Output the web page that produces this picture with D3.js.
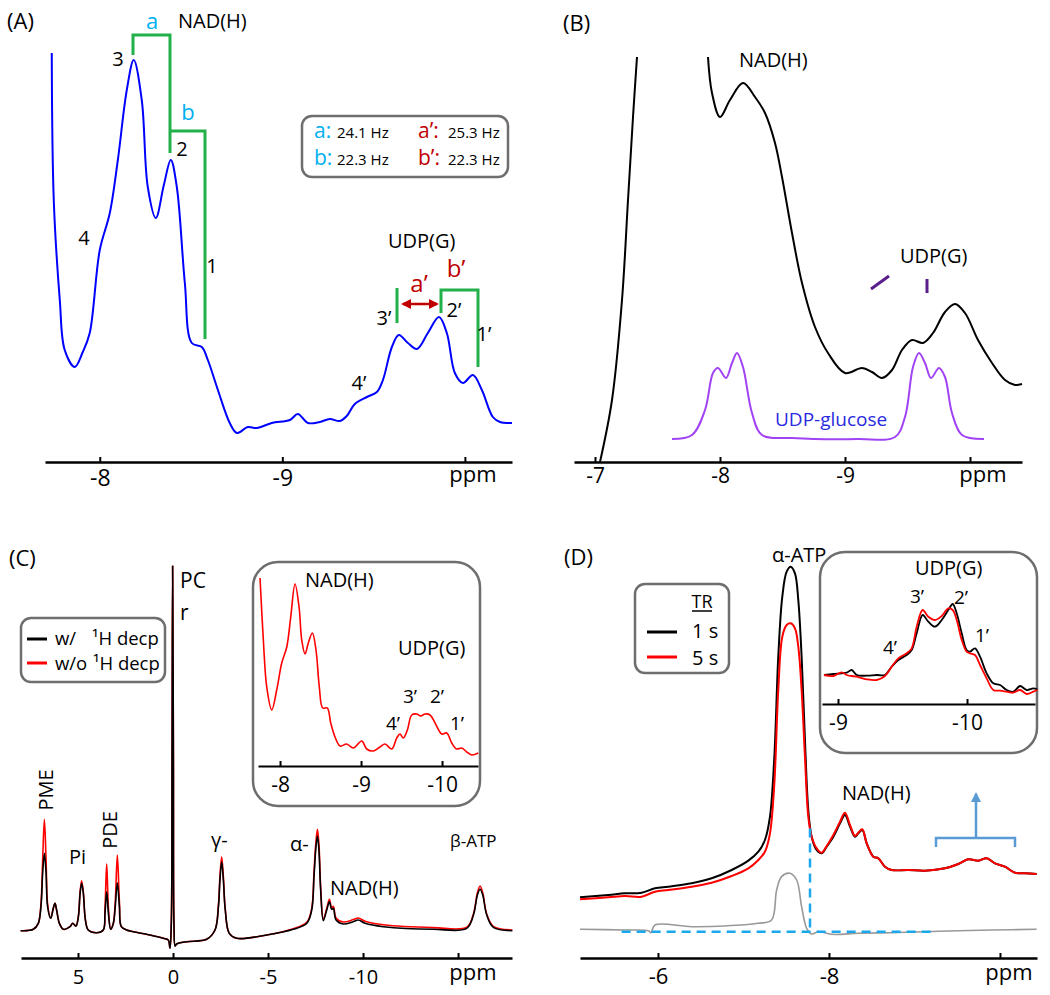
<!DOCTYPE html>
<html>
<head>
<meta charset="utf-8">
<script src="https://cdn.jsdelivr.net/npm/d3@7"></script>
<style>
  body { margin: 0; background: #fff; }
  svg { display: block; font-family: "Open Sans", sans-serif; }
</style>
</head>
<body>
<div id="chart"></div>
<script>
// ---- data (ppm, intensity in arbitrary units) ----

// (A) 1H-decoupled spectrum, NAD(H) / UDP(G) region
const aPpm = [-7.737,-7.748,-7.781,-7.808,-7.863,-7.907,-7.945,-8.0,-8.055,-8.099,-8.148,-8.186,-8.230,-8.263,-8.307,-8.351,-8.389,-8.422,-8.466,-8.504,-8.559,-8.592,-8.647,-8.712,-8.751,-8.811,-8.860,-8.942,-9.041,-9.085,-9.140,-9.205,-9.260,-9.315,-9.353,-9.397,-9.463,-9.518,-9.551,-9.600,-9.638,-9.688,-9.737,-9.797,-9.858,-9.901,-9.945,-9.989,-10.044,-10.093,-10.153,-10.192,-10.258];
const aInt = [96.75,60,35,22.5,18.25,22,26.75,47.5,56.75,70,87.5,95,85,63.25,55.5,63.75,70,63.25,39.25,24.25,23.25,20,12.5,4.25,1.75,3.25,3,4.25,5,6.5,4.25,4.5,5.25,4.75,6,9,10.75,12,15,23.25,26.25,24.25,22.75,26.75,30.75,26.75,16.75,14.25,16.25,12.5,5.75,4.5,4.25];

// (B) in vivo spectrum (null = off-scale alpha-ATP top) and UDP-glucose model
const bPpm = [-7.04,-7.136,-7.216,-7.264,-7.304,-7.336,-7.6,-7.904,-7.936,-8.0,-8.08,-8.184,-8.28,-8.36,-8.44,-8.496,-8.576,-8.656,-8.76,-8.864,-9.0,-9.136,-9.216,-9.296,-9.376,-9.456,-9.536,-9.624,-9.704,-9.8,-9.88,-9.96,-10.064,-10.176,-10.28,-10.36,-10.416];
const bInt = [0,15.5,40.5,65.5,86.25,101.25,null,101.25,92.25,86.25,90.5,94.75,91.25,87.25,79.75,71.25,57.25,44.75,33.75,27.25,22.25,23.5,22.5,21,23,28,30.5,29.75,32.25,37.5,39.5,37.25,30.5,24.75,20.5,19.25,19.5];
const gPpm = [-7.616,-7.776,-7.88,-7.944,-7.984,-8.048,-8.096,-8.136,-8.184,-8.256,-8.336,-8.576,-9.104,-9.4,-9.48,-9.544,-9.592,-9.64,-9.688,-9.752,-9.8,-9.856,-9.936,-10.112];
const gInt = [5.75,6.75,13,22.25,23.5,21,24.75,27.25,23.75,12.25,6.75,6,5.75,6.25,11.25,23.75,27.25,24.75,21,23.5,21.25,12.25,6.75,5.75];

// (C) full spectrum, with / without 1H decoupling
const cPpm = [8.02,7.35,7.09,6.95,6.86,6.77,6.68,6.60,6.44,6.30,6.21,6.12,5.98,5.77,5.42,5.28,5.11,4.98,4.89,4.81,4.72,4.61,4.46,4.02,3.67,3.58,3.49,3.40,3.28,3.14,3.04,2.93,2.82,2.72,2.44,2.09,1.21,0.51,0.25,0.16,0.09,0.05,0.02,-0.02,-0.05,-0.11,-0.19,-0.72,-1.77,-2.21,-2.39,-2.47,-2.56,-2.65,-2.75,-2.96,-3.35,-4.93,-6.33,-7.04,-7.30,-7.42,-7.51,-7.60,-7.68,-7.77,-7.91,-8.09,-8.23,-8.35,-8.44,-8.58,-8.96,-9.49,-9.75,-10.11,-11.07,-13.70,-15.46,-15.81,-16.02,-16.16,-16.30,-16.51,-16.86,-17.86];
const cBlack = [2.83,3.17,4.67,8.83,17.17,22.17,17.17,8.83,5.92,8.42,9.67,7.83,4.67,3.17,3.83,4.67,4.0,6.33,12.17,14.67,12.17,5.5,3.0,2.33,3.0,7.17,12.58,7.17,3.17,4.67,8.83,14.83,8.83,3.83,3.0,2.58,1.75,0.92,0.5,-1.58,4.67,46.33,94.0,46.33,4.67,-1.0,-0.5,0.08,0.67,3.0,8.83,15.5,20.08,15.5,8.0,2.17,0.92,1.75,3.17,4.67,8.0,16.33,23.0,26.5,23.0,13.0,5.33,8.0,10.08,8.17,8.42,5.5,4.5,5.08,5.5,4.67,3.83,3.17,3.42,6.75,11.75,13.17,11.75,6.75,3.67,2.83];
const cRed = [2.83,3.17,4.67,9.5,20.5,30.67,20.5,9.5,5.92,8.42,9.67,7.83,4.67,3.17,3.83,4.67,4.0,6.5,12.5,15.33,12.5,5.5,3.0,2.33,3.0,8.5,19.5,8.5,3.17,4.67,10.0,21.75,10.0,3.83,3.0,2.58,1.75,0.92,0.5,-1.58,4.67,46.33,94.0,46.33,4.67,-1.0,-0.5,0.08,0.67,3.0,9.2,16.3,21.33,16.3,8.2,2.17,0.92,1.75,3.3,4.9,8.4,17.4,24.4,28.17,24.4,13.8,5.7,8.4,10.67,8.6,8.9,6.0,5.0,5.6,6.0,5.2,4.3,3.6,3.7,7.0,12.3,14.0,12.3,7.0,3.9,3.0];

// (C) inset, without decoupling
const cInPpm = [-7.753,-7.794,-7.836,-7.898,-7.959,-8.021,-8.083,-8.132,-8.185,-8.235,-8.268,-8.309,-8.349,-8.399,-8.444,-8.485,-8.527,-8.584,-8.626,-8.679,-8.741,-8.823,-8.905,-9.009,-9.070,-9.152,-9.235,-9.296,-9.379,-9.441,-9.481,-9.522,-9.572,-9.626,-9.688,-9.737,-9.790,-9.852,-9.914,-9.996,-10.058,-10.120,-10.181,-10.243,-10.305,-10.367,-10.448];
const cInInt = [47,31.5,19.75,14,19,25.75,29.75,37.25,45.5,39.75,31.5,28,30.75,33.25,29,19.75,14.5,14.5,10.75,7.25,5,5.5,4.5,6.25,4.25,3.75,4.75,5.5,4.25,7,8,7,9,12.75,13,12.5,13,12.75,10.75,8,8.25,5.75,4.25,4.5,3.5,2.75,3.25];

// (D) TR = 1 s / 5 s and difference
const dPpm = [-5.088,-5.419,-5.614,-5.809,-5.965,-6.121,-6.394,-6.628,-6.862,-7.057,-7.174,-7.251,-7.310,-7.361,-7.407,-7.454,-7.505,-7.552,-7.602,-7.641,-7.680,-7.719,-7.758,-7.797,-7.856,-7.914,-7.973,-8.051,-8.129,-8.187,-8.246,-8.304,-8.343,-8.390,-8.441,-8.519,-8.577,-8.655,-8.733,-8.928,-9.123,-9.357,-9.513,-9.630,-9.747,-9.844,-9.942,-10.058,-10.175,-10.292,-10.429];
const dTr1 = [15.17,15.75,16.17,16.33,17.42,17.83,18.67,19.92,22.0,24.33,26.58,29.5,35.33,50.33,75.33,90.33,96.58,97.83,96.17,89.5,75.33,54.5,37.0,30.33,27.0,26.17,27.83,30.33,33.67,35.75,32.83,30.33,31.17,32.0,28.67,25.33,24.92,22.83,22.0,22.0,21.83,22.42,23.5,24.67,24.33,24.92,23.67,22.83,21.33,21.17,21.0];
const dTr5 = [14.67,15.17,15.5,15.33,16.58,17.0,17.83,18.83,20.5,22.42,24.5,26.58,31.17,43.67,67.0,80.33,83.25,83.67,82.42,77.83,67.0,50.33,35.33,30.33,27.42,26.33,28.0,30.75,34.08,36.33,33.25,30.5,31.33,32.17,28.67,25.33,24.92,22.83,22.0,22.0,21.83,22.42,23.5,24.67,24.33,24.92,23.67,22.83,21.33,21.17,21.0];
const dDiffPpm = [-5.088,-5.614,-5.887,-5.918,-5.965,-6.394,-6.784,-7.174,-7.329,-7.388,-7.446,-7.544,-7.622,-7.680,-7.739,-7.797,-7.875,-8.031,-8.343,-8.733,-9.123,-9.513,-9.903,-10.429];
const dDiff = [7.17,7.0,6.83,6.33,8.25,7.83,8.0,8.67,9.5,17.0,20.33,21.17,19.5,12.83,7.42,6.0,6.58,5.92,6.17,6.33,6.58,6.83,7.0,7.17];

// (D) inset
const dInPpm = [-8.891,-8.964,-9.028,-9.067,-9.106,-9.145,-9.222,-9.300,-9.364,-9.416,-9.468,-9.532,-9.571,-9.610,-9.656,-9.700,-9.752,-9.804,-9.855,-9.889,-9.920,-9.959,-9.997,-10.023,-10.062,-10.101,-10.152,-10.204,-10.256,-10.307,-10.359,-10.411,-10.463,-10.514,-10.545];
const dInTr1 = [7.25,7.5,7.67,7.83,8.5,7.25,7.08,7.25,7.25,9.33,11.0,12.25,13.5,17.67,22.25,20.58,19.33,21.0,23.5,25.0,22.67,17.67,13.5,13.08,13.92,11.83,7.67,5.17,4.75,3.5,3.08,4.5,3.5,3.92,3.67];
const dInTr5 = [7.25,7.0,7.92,7.25,7.0,6.83,6.17,6.0,7.0,9.33,11.42,12.67,13.92,19.33,23.5,21.83,21.0,22.0,23.92,23.5,21.0,16.0,13.08,12.67,12.25,9.75,6.42,3.5,3.33,3.08,2.83,3.5,2.5,3.08,3.5];

// tick values and labels
const aTicks = [-8, -9, -10], aTickLabels = ['-8', '-9', ''];
const bTicks = [-7, -8, -9, -10], bTickLabels = ['-7', '-8', '-9', ''];
const cTicks = [5, 0, -5, -10, -15], cTickLabels = ['5', '0', '-5', '-10', ''];
const cInTicks = [-8, -9, -10], cInTickLabels = ['-8', '-9', '-10'];
const dTicks = [-6, -8, -10], dTickLabels = ['-6', '-8', ''];
const dInTicks = [-9, -10], dInTickLabels = ['-9', '-10'];

// J-coupling legend of (A)
const jNames = ['a:', 'b:', 'a\u2019:', 'b\u2019:'];
const jValues = ['24.1 Hz', '22.3 Hz', '25.3 Hz', '22.3 Hz'];

const colors = {
  blue: '#0000ff', green: '#22b04b', cyan: '#00b0f0', darkRed: '#c00000',
  red: '#ff0000', purple: '#a142f4', glucose: '#2a2ae0', tick: '#5a1e8c',
  gray: '#999999', box: '#6e6e6e', dash: '#1aa7ec', bracket: '#5b9bd5'
};

// ---- drawing ----
const svg = d3.select('#chart').append('svg')
  .attr('width', 1050)
  .attr('height', 995);

const defs = svg.append('defs');
[['arrRed', colors.darkRed], ['arrBlue', colors.bracket]].forEach(function (m) {
  defs.append('marker')
    .attr('id', m[0])
    .attr('viewBox', '0 0 10 10')
    .attr('refX', 8).attr('refY', 5)
    .attr('markerWidth', 4).attr('markerHeight', 4)
    .attr('orient', 'auto-start-reverse')
    .append('path')
    .attr('d', 'M0,0 L10,5 L0,10 z')
    .attr('fill', m[1]);
});

function scales(p) {
  return {
    x: d3.scaleLinear().domain([p.ppm0, p.ppm1]).range([p.x0, p.x1]),
    y: d3.scaleLinear().domain([0, 100]).range([p.base, p.base - 400])
  };
}

function drawCurve(s, ppm, vals, color, width) {
  const line = d3.line()
    .defined(function (d) { return d[1] !== null; })
    .x(function (d) { return s.x(d[0]); })
    .y(function (d) { return s.y(d[1]); })
    .curve(d3.curveCatmullRom.alpha(0.5));

  svg.append('path')
    .datum(d3.zip(ppm, vals))
    .attr('fill', 'none')
    .attr('stroke', color)
    .attr('stroke-width', width)
    .attr('stroke-linejoin', 'round')
    .attr('d', line);
}

function drawAxis(s, axisY, ticks, labels, pad, fontSize, lw) {
  const g = svg.append('g')
    .attr('transform', 'translate(0,' + axisY + ')')
    .call(d3.axisBottom(s.x)
      .tickValues(ticks)
      .tickSize(-5)
      .tickSizeOuter(0)
      .tickPadding(pad)
      .tickFormat(function (d, i) { return labels[i]; }));

  g.attr('font-family', null).attr('font-size', null);
  g.select('.domain').attr('stroke-width', lw);
  g.selectAll('.tick line').attr('stroke-width', 2);
  g.selectAll('.tick text').attr('font-size', fontSize).attr('fill', '#000');
}

function text(t, x, y, size, color, anchor, rotate) {
  const el = svg.append('text')
    .attr('font-size', size)
    .attr('fill', color || '#000')
    .attr('text-anchor', anchor || 'start')
    .text(t);
  if (rotate) {
    el.attr('transform', 'translate(' + x + ',' + y + ') rotate(' + rotate + ')');
  } else {
    el.attr('x', x).attr('y', y);
  }
  return el;
}

function box(x, y, w, h, r) {
  svg.append('rect')
    .attr('x', x).attr('y', y)
    .attr('width', w).attr('height', h)
    .attr('rx', r).attr('ry', r)
    .attr('fill', '#fff')
    .attr('stroke', colors.box)
    .attr('stroke-width', 2.5);
}

function pathLine(d, color, width, dash) {
  const p = svg.append('path')
    .attr('d', d)
    .attr('fill', 'none')
    .attr('stroke', color)
    .attr('stroke-width', width);
  if (dash) { p.attr('stroke-dasharray', dash); }
  return p;
}

// ===== (A) =====
const sA = scales({ ppm0: -7.70, ppm1: -10.258, x0: 45, x1: 512, base: 440 });
drawCurve(sA, aPpm, aInt, colors.blue, 2);
drawAxis(sA, 462, aTicks, aTickLabels, 8, 23, 2.5);
text('ppm', 473, 482, 22, '#000', 'middle');
text('(A)', 7, 29, 22);
text('NAD(H)', 178, 28, 20);
text('a', 152, 29, 22, colors.cyan, 'middle');
text('b', 188, 120, 22, colors.cyan, 'middle');
pathLine('M133,55 V35 H170 V153', colors.green, 3);
pathLine('M170,131 H205 V339', colors.green, 3);
text('3', 118, 66, 20, '#000', 'middle');
text('2', 182, 156, 20, '#000', 'middle');
text('1', 212, 273, 20, '#000', 'middle');
text('4', 84, 245, 20, '#000', 'middle');
text('UDP(G)', 388, 248, 20);
pathLine('M397,288 V323', colors.green, 3);
pathLine('M441,313 V290 H478 V367', colors.green, 3);
pathLine('M403,304 H437', colors.darkRed, 2.5)
  .attr('marker-start', 'url(#arrRed)')
  .attr('marker-end', 'url(#arrRed)');
text('a\u2019', 419, 292, 24, colors.darkRed, 'middle');
text('b\u2019', 456, 277, 24, colors.darkRed, 'middle');
text('3\u2019', 384, 325, 20, '#000', 'middle');
text('2\u2019', 454, 317, 20, '#000', 'middle');
text('1\u2019', 484, 341, 20, '#000', 'middle');
text('4\u2019', 359, 390, 20, '#000', 'middle');

box(302, 116, 206, 61, 10);
jNames.forEach(function (n, i) {
  const col = i < 2 ? 0 : 1,
    row = i % 2,
    bx = col === 0 ? 314 : 418,
    by = row === 0 ? 138 : 165;
  text(n, bx, by, 21, col === 0 ? colors.cyan : colors.darkRed);
  text(jValues[i], bx + (col === 0 ? 23 : 30), by, 15);
});

// ===== (B) =====
const sB = scales({ ppm0: -6.832, ppm1: -10.416, x0: 574, x1: 1022, base: 462 });
drawCurve(sB, bPpm, bInt, '#000', 2);
drawCurve(sB, gPpm, gInt, colors.purple, 2);
drawAxis(sB, 462, bTicks, bTickLabels, 6, 21, 2.5);
text('ppm', 983, 482, 22, '#000', 'middle');
text('(B)', 563, 31, 22);
text('NAD(H)', 739, 67, 20);
text('UDP(G)', 900, 263, 20);
text('UDP-glucose', 775, 426, 19, colors.glucose);
pathLine('M871,289 L889,276', colors.tick, 3);
pathLine('M927,279 V293', colors.tick, 3);

// ===== (C) =====
const sC = scales({ ppm0: 8.0, ppm1: -17.84, x0: 21, x1: 512, base: 942 });
drawCurve(sC, cPpm, cRed, colors.red, 1.6);
drawCurve(sC, cPpm, cBlack, '#000', 1.6);
drawAxis(sC, 958, cTicks, cTickLabels, 12, 20, 2.5);
text('ppm', 473, 980, 22, '#000', 'middle');
text('(C)', 9, 566, 22);
text('PC', 180, 588, 21);
text('r', 180, 620, 21);
text('PME', 53, 790, 20, '#000', 'middle', -90);
text('PDE', 117, 830, 20, '#000', 'middle', -90);
text('Pi', 69, 864, 20);
text('\u03b3-', 211, 847, 20);
text('\u03b1-', 290, 851, 20);
text('NAD(H)', 330, 895, 20);
text('\u03b2-ATP', 450, 847, 17);

box(21, 618, 144, 64, 10);
pathLine('M27,639 H47', '#000', 3);
pathLine('M27,663 H47', colors.red, 3);
text('w/', 55, 645, 18.5);
text('\u00b9H decp', 92, 645, 18.5);
text('w/o', 55, 670, 18.5);
text('\u00b9H decp', 93, 670, 18.5);

box(253, 562, 227, 244, 25);
const sCi = scales({ ppm0: -7.728, ppm1: -10.444, x0: 258, x1: 478, base: 766 });
drawCurve(sCi, cInPpm, cInInt, colors.red, 1.6);
drawAxis(sCi, 766, cInTicks, cInTickLabels, 11, 21, 2);
text('NAD(H)', 305, 587, 20);
text('UDP(G)', 398, 655, 20);
text('3\u2019', 410, 703, 19, '#000', 'middle');
text('2\u2019', 437, 703, 19, '#000', 'middle');
text('4\u2019', 393, 730, 19, '#000', 'middle');
text('1\u2019', 457, 730, 19, '#000', 'middle');

// ===== (D) =====
const sD = scales({ ppm0: -5.088, ppm1: -10.433, x0: 580, x1: 1037, base: 958 });
drawCurve(sD, dDiffPpm, dDiff, colors.gray, 1.6);
drawCurve(sD, dPpm, dTr1, '#000', 2);
drawCurve(sD, dPpm, dTr5, colors.red, 2);
drawAxis(sD, 958, dTicks, dTickLabels, 10, 22, 2.5);
text('ppm', 1009, 980, 22, '#000', 'middle');
text('(D)', 564, 565, 22);
text('\u03b1-ATP', 772, 562, 20);
text('NAD(H)', 842, 800, 20);

// integration window of the difference peak
const dashY = sD.y(6.58);
pathLine('M' + sD.x(-5.575) + ',' + dashY + ' H' + sD.x(-9.22), colors.dash, 2.5, '9,6');
pathLine('M' + sD.x(-7.778) + ',' + sD.y(32.4) + ' V' + dashY, colors.dash, 2.5, '9,6');

// bracket pointing at the UDP(G) inset
pathLine('M936,847 V838 H1015 V847', colors.bracket, 2.5);
pathLine('M976,838 V794', colors.bracket, 2.5).attr('marker-end', 'url(#arrBlue)');

box(635, 584, 94, 89, 10);
text('TR', 702, 608, 18, '#000', 'middle');
pathLine('M692,611 H712', '#000', 1.5);
pathLine('M647,632 H677', '#000', 3);
pathLine('M647,657 H677', colors.red, 3);
text('1 s', 692, 638, 20);
text('5 s', 692, 665, 20);

box(820, 552, 217, 201, 25);
const sDi = scales({ ppm0: -8.876, ppm1: -10.527, x0: 822, x1: 1035, base: 704 });
drawCurve(sDi, dInPpm, dInTr1, '#000', 1.8);
drawCurve(sDi, dInPpm, dInTr5, colors.red, 1.8);
drawAxis(sDi, 704, dInTicks, dInTickLabels, 11, 21, 2);
text('UDP(G)', 915, 575, 20);
text('3\u2019', 917, 603, 19, '#000', 'middle');
text('2\u2019', 961, 604, 19, '#000', 'middle');
text('4\u2019', 890, 654, 19, '#000', 'middle');
text('1\u2019', 982, 642, 19, '#000', 'middle');
</script>
</body>
</html>
